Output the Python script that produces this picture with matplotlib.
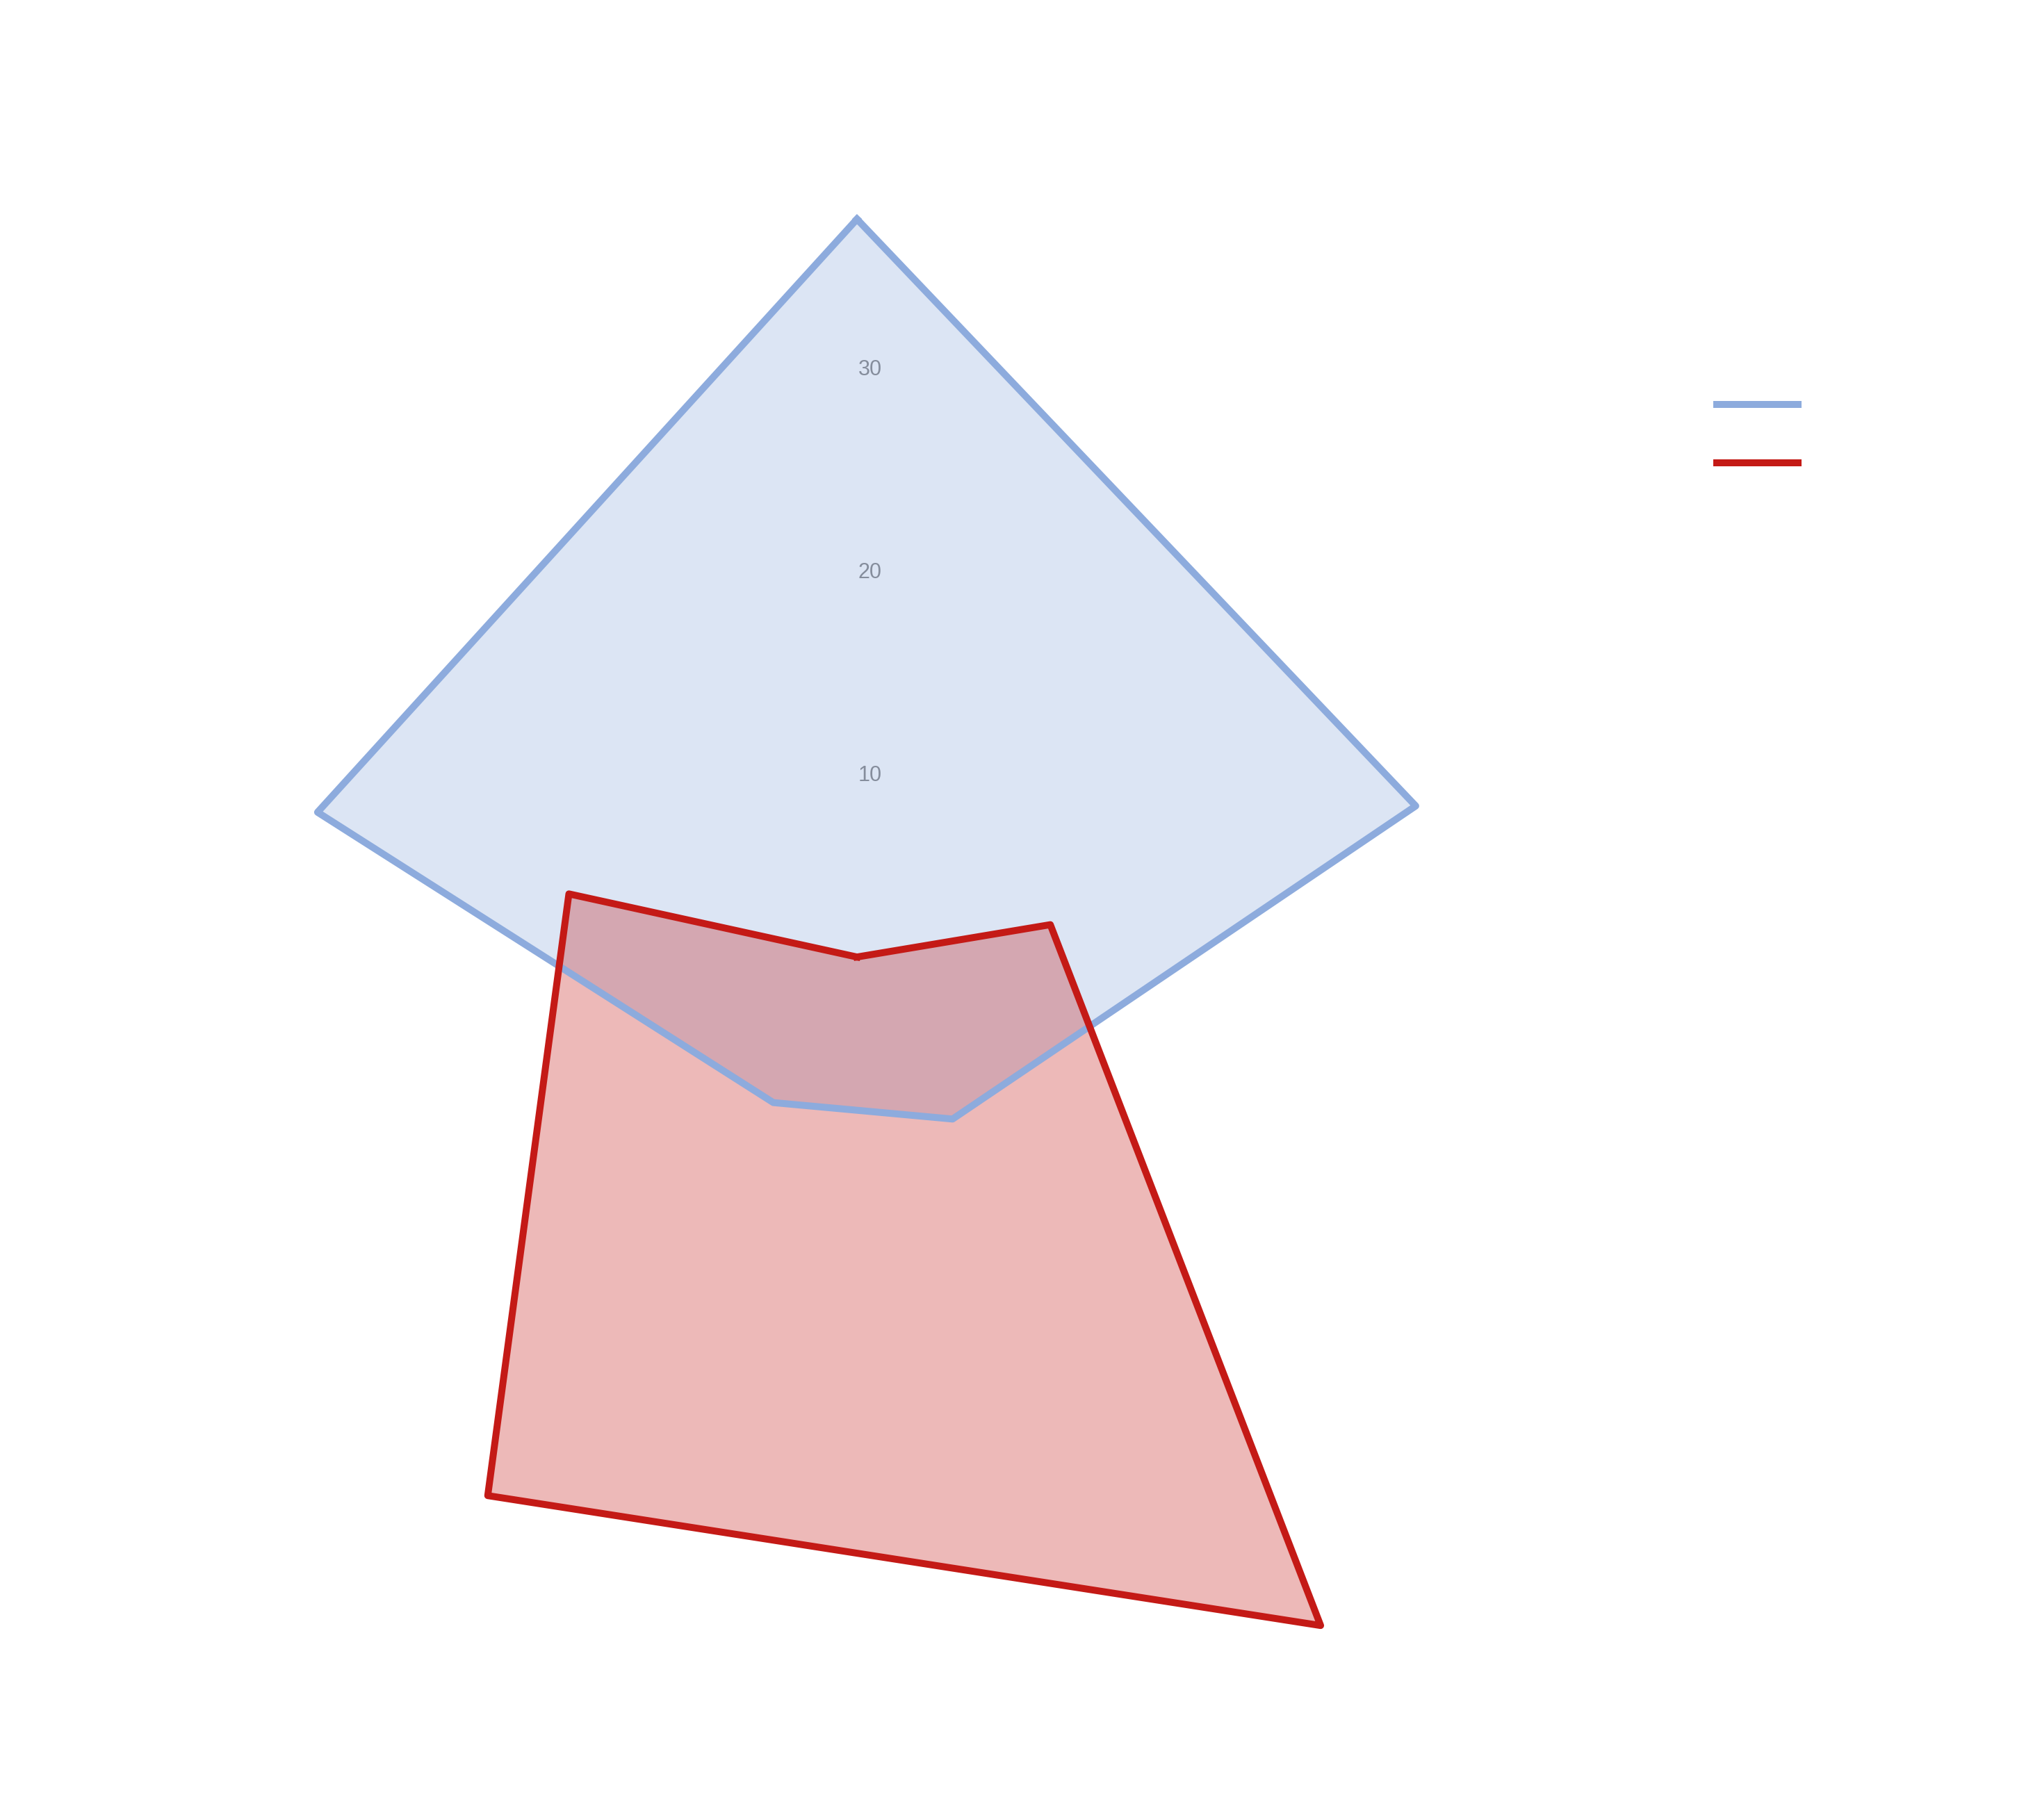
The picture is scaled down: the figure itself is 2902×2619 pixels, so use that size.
import numpy as np
import matplotlib
matplotlib.use("Agg")
import matplotlib.pyplot as plt
from matplotlib.lines import Line2D
from matplotlib.transforms import ScaledTranslation

# ---- data ----
categories = ["A", "B", "C", "D", "E"]
series_names = ["", ""]
blue_values = [37.8, 28.9, 8.0, 7.0, 27.9]
red_values = [1.5, 10.0, 38.8, 30.9, 14.9]
tick_values = [10, 20, 30]
tick_labels = ["10", "20", "30"]

blue_color = "#8DABDD"
red_color = "#C41A16"

W, H = 2902, 2619
dpi = 100
fig = plt.figure(figsize=(W / dpi, H / dpi), dpi=dpi)

rmax = 40.0
rad_px = rmax * 29.25
cx, cy = 1233, 1421
ax = fig.add_axes([(cx - rad_px) / W, (H - cy - rad_px) / H, 2 * rad_px / W, 2 * rad_px / H],
                  projection="polar")
ax.set_theta_zero_location("N")
ax.set_theta_direction(-1)
ax.set_ylim(0, rmax)
ax.grid(False)
ax.spines["polar"].set_visible(False)
ax.set_xticks([])
ax.set_yticks([])
ax.patch.set_alpha(0)

n = len(categories)
angles = np.linspace(0, 2 * np.pi, n, endpoint=False)
ang_c = np.concatenate([angles, angles[:1]])

lw = 7.2
for vals, col in [(blue_values, blue_color), (red_values, red_color)]:
    v = np.concatenate([vals, vals[:1]])
    ax.fill(ang_c, v, color=col, alpha=0.3, lw=0, zorder=2)
    ax.plot(ang_c, v, color=col, lw=lw, solid_joinstyle="round", zorder=3)

off = ScaledTranslation(2 / dpi, 12 / dpi, fig.dpi_scale_trans)
for tv, tl in zip(tick_values, tick_labels):
    ax.text(0, tv, tl, transform=ax.transData + off, ha="left", va="center",
            fontsize=22, color="#858D9C", family=["Liberation Sans", "DejaVu Sans"], zorder=5)

handles = [Line2D([], [], color=blue_color, lw=lw), Line2D([], [], color=red_color, lw=lw)]
leg = fig.legend(handles, series_names, loc="upper left",
                 bbox_to_anchor=(2466 / W + 0.0015, 1 - 570 / H), frameon=False,
                 fontsize=20, handlelength=4.2, handletextpad=0.3, labelspacing=2.0,
                 borderpad=0, borderaxespad=0)

fig.savefig("out.png", dpi=dpi, facecolor="white")
